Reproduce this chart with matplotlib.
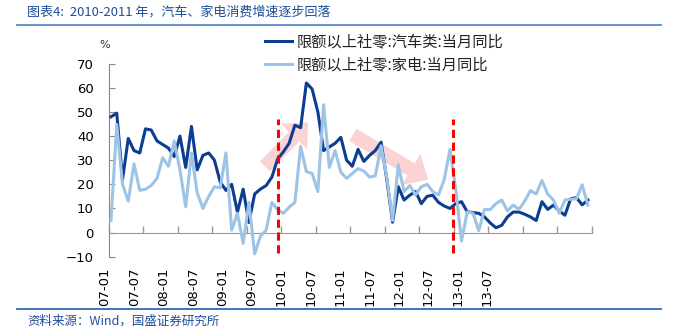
import matplotlib
matplotlib.use('Agg')
import matplotlib.pyplot as plt
from matplotlib.patches import FancyArrowPatch
from matplotlib.lines import Line2D
from matplotlib.transforms import ScaledTranslation
import numpy as np

plt.rcParams['font.family'] = ['DejaVu Sans', 'Noto Sans CJK SC']
CJK = ['Noto Sans CJK SC', 'DejaVu Sans']

# ---------------- data (monthly, 2007-01 .. 2013-12) ----------------
auto = [48, 49.5, 22, 39, 34, 33, 43, 42.5, 38, 36.5,
        35, 31.5, 40, 27, 44, 26, 32, 33, 30, 21,
        17.5, 20, 8.5, 18, 4.2, 16, 18, 19.5, 23, 30.5,
        33.5, 37, 44.5, 43.5, 62, 59.5, 50, 34, 35.5, 37,
        39.5, 30, 27.5, 34.5, 29.5, 32, 34, 37.5, 22, 4.3,
        19, 13.5, 15.5, 17, 12, 15, 15.5, 12.5, 11, 10,
        12, 12.8, 8.6, 8.3, 8, 6.5, 4, 2, 3, 6.5,
        8.5, 8.5, 7.6, 6.5, 5, 12.8, 9.6, 11.4, 9, 7.2,
        14, 14.5, 11.5, 13.5]
appliance = [5, 44.8, 20, 13, 28.5, 17.5, 18, 19.5, 22.5, 31,
             27.5, 38, 26, 10.7, 33, 16.5, 10, 15, 19, 18.5,
             33, 1, 8, -4.5, 12.5, -8.8, -1.5, 1, 12.5, 9.5,
             8, 10.5, 12.5, 35.7, 25.3, 24.5, 17, 53, 27, 34,
             25, 22.5, 24.5, 26.5, 25.5, 23, 23.5, 36, 23, 5,
             28, 17, 19.5, 15.6, 19, 20, 17, 15.6, 22, 34.5,
             18, -3.5, 8.6, 8, 0.8, 9.6, 9.5, 12, 13.5, 9,
             11.4, 9.6, 13, 17.4, 16, 21.6, 16, 13.5, 8, 13.5,
             13.8, 14, 19.8, 11.4]
series_names = ['限额以上社零:汽车类:当月同比', '限额以上社零:家电:当月同比']
tick_labels = ['07-01', '07-07', '08-01', '08-07', '09-01', '09-07', '10-01',
               '10-07', '11-01', '11-07', '12-01', '12-07', '13-01', '13-07']
dashed_x = [29.1, 59.6]
arrows = [((26.8, 27.4), (34.3, 45.7)), ((42.1, 40.5), (55.2, 21.9))]

title = '图表4:  2010-2011 年，汽车、家电消费增速逐步回落'
source = '资料来源：Wind，国盛证券研究所'

# ---------------- figure ----------------
W, H = 673, 336
fig = plt.figure(figsize=(W / 100, H / 100), dpi=100)
L, R, T, B = 109, 591.7, 63.7, 256.7
ax = fig.add_axes([L / W, 1 - B / H, (R - L) / W, (B - T) / H])

x = np.arange(len(auto))
dark = '#0B3D91'
light = '#9DC3E6'
ax.plot(x, auto, color=dark, lw=2.2, zorder=3, solid_joinstyle='round')
ax.plot(x, appliance, color=light, lw=2.2, zorder=4, solid_joinstyle='round')

for (a, b) in arrows:
    p = FancyArrowPatch(a, b, arrowstyle='simple,head_length=1.2,head_width=2.2,tail_width=0.85',
                        mutation_scale=12, color='#FBD3D4', lw=0, zorder=1,
                        shrinkA=0, shrinkB=0)
    ax.add_patch(p)

for dx in dashed_x:
    ax.plot([dx, dx], [-8.3, 47], color='#FF0000', lw=2.2, dashes=(2.7, 1.5), zorder=5)

x0 = -0.35
ax.set_xlim(x0, 83.66)
ax.set_ylim(-10, 70)
ax.set_yticks(np.arange(-10, 71, 10))
ax.tick_params(axis='y', direction='in', length=4, color='#888888', labelsize=9.5, pad=11)

# zero axis with tick marks on the main x-axis
ax.spines['bottom'].set_position(('data', 0))
ax.spines['bottom'].set_color('#999999')
ax.set_xticks(x0 + 6 * np.arange(15))
ax.tick_params(axis='x', direction='in', length=5, color='#999999', width=1,
               labelbottom=False)

for s in ['top', 'right']:
    ax.spines[s].set_visible(False)
ax.spines['left'].set_color('#888888')

# tick labels placed as in the reference, on a secondary axis at the bottom
shift = 0.75  # months; labels drawn with a matching pixel offset so the first one is not clipped
sec = ax.secondary_xaxis(0.0)
sec.set_xticks(-1.04 + shift + 5.117 * np.arange(len(tick_labels)))
sec.set_xticklabels(tick_labels, rotation=90, fontsize=9.5)
sec.tick_params(length=0, pad=8)
sec.spines['bottom'].set_visible(False)
px_per_month = (R - L) / (83.66 - x0)
off = ScaledTranslation(-shift * px_per_month / 100, 0, fig.dpi_scale_trans)
for lab in sec.get_xticklabels():
    lab.set_transform(lab.get_transform() + off)

fig.text(105 / W, 1 - 45 / H, '%', fontsize=8, ha='center', va='center', color='#333333')

handles = [Line2D([], [], color=dark, lw=2.2), Line2D([], [], color=light, lw=2.2)]
leg = fig.legend(handles, series_names, loc='upper left',
                 bbox_to_anchor=(265 / W, 1 - 33 / H), frameon=False,
                 prop={'family': CJK, 'size': 11}, handlelength=1.75,
                 handletextpad=0.35, labelspacing=0.42, borderpad=0, borderaxespad=0)
for t in leg.get_texts():
    t.set_color('#222222')

fig.text(27 / W, 1 - 12 / H, title, fontsize=9.4, color='#1F4E9A', family=CJK,
         ha='left', va='center', style='italic')
fig.add_artist(Line2D([17 / W, 661 / W], [1 - 25 / H, 1 - 25 / H], color='#5B8BC9', lw=1.3))
fig.add_artist(Line2D([17 / W, 661 / W], [1 - 309 / H, 1 - 309 / H], color='#2E6BB5', lw=1.3))
fig.text(27 / W, 1 - 321 / H, source, fontsize=9, color='#1F4E9A', family=CJK,
         ha='left', va='center', style='italic')

fig.savefig('out.png', dpi=100)
